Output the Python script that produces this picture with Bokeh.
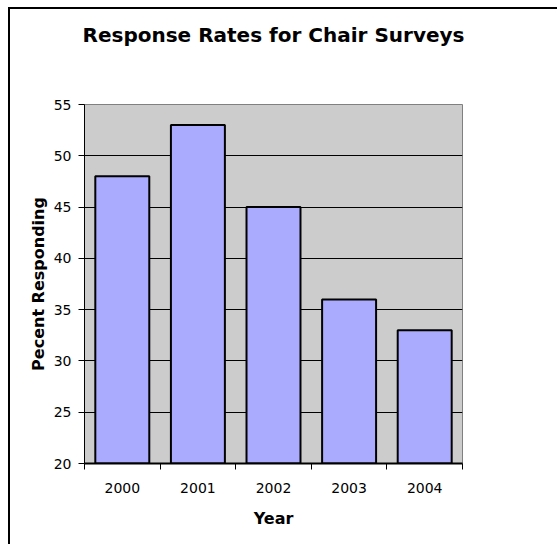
from bokeh.plotting import figure
from bokeh.models import FixedTicker, ColumnDataSource, Title, InlineStyleSheet
from bokeh.embed import file_html
from bokeh.resources import INLINE

years = ["2000", "2001", "2002", "2003", "2004"]
percent = [48, 53, 45, 36, 33]
y_ticks = [20, 25, 30, 35, 40, 45, 50, 55]
title_text = "Response Rates for Chair Surveys"

xpos = [i + 0.5 for i in range(len(years))]
src = ColumnDataSource(dict(x=xpos, top=percent, year=years))

# outer chart border: only its left and top edges fall inside the picture
border_css = InlineStyleSheet(css="""
:host { position: relative; }
:host::before { content: ''; position: absolute; left: 8px; top: 7px;
                width: 2px; height: 537px; background: black; z-index: 100; }
:host::after  { content: ''; position: absolute; left: 8px; top: 7px;
                width: 549px; height: 2px; background: black; z-index: 100; }
""")

p = figure(width=557, height=544, output_backend="svg", toolbar_location=None,
           x_range=(0, len(years)), y_range=(20, 55),
           min_border_left=84, min_border_right=95, min_border_top=104, min_border_bottom=81,
           stylesheets=[border_css])

# main title (outermost panel)
p.title.text = title_text
p.title.align = "center"
p.title.vertical_align = "bottom"
p.title.text_font = "DejaVu Sans"
p.title.text_font_size = "20px"
p.title.text_font_style = "bold"
p.title.text_color = "black"
p.title.standoff = 0
p.title.offset = 2

# blank spacer panel between the title and the plot area
p.add_layout(Title(text=" ", text_font_size="1px", standoff=55), "above")

p.background_fill_color = "#CCCCCC"
p.border_fill_color = "white"
p.outline_line_color = "#808080"
p.outline_line_width = 1

p.vbar(x="x", top="top", bottom=20, width=0.714, source=src,
       fill_color="#AAAAFF", line_color="black", line_width=2)

# Grid
p.xgrid.visible = False
p.ygrid.ticker = FixedTicker(ticks=y_ticks)
p.ygrid.grid_line_color = "black"
p.ygrid.grid_line_width = 1

# X axis
xa = p.xaxis[0]
xa.ticker = FixedTicker(ticks=xpos, minor_ticks=list(range(len(years) + 1)))
xa.major_label_overrides = {x: y for x, y in zip(xpos, years)}
xa.major_tick_out = 0
xa.major_tick_in = 0
xa.minor_tick_out = 6
xa.minor_tick_in = 0
xa.minor_tick_line_color = "black"
xa.axis_line_color = "black"
xa.axis_line_width = 2
xa.major_label_text_font = "DejaVu Sans"
xa.major_label_text_font_size = "14px"
xa.major_label_text_color = "black"
xa.major_label_standoff = 13
xa.axis_label = "Year"
xa.axis_label_text_font = "DejaVu Sans"
xa.axis_label_text_font_size = "16px"
xa.axis_label_text_font_style = "bold"
xa.axis_label_text_color = "black"
xa.axis_label_standoff = 13

# Y axis
ya = p.yaxis[0]
ya.ticker = FixedTicker(ticks=y_ticks)
ya.major_tick_out = 6
ya.major_tick_in = 0
ya.minor_tick_out = 0
ya.minor_tick_in = 0
ya.major_tick_line_color = "black"
ya.axis_line_color = "black"
ya.axis_line_width = 1
ya.major_label_text_font = "DejaVu Sans"
ya.major_label_text_font_size = "14px"
ya.major_label_text_color = "black"
ya.major_label_standoff = 7
ya.axis_label = "Pecent Responding"
ya.axis_label_text_font = "DejaVu Sans"
ya.axis_label_text_font_size = "16px"
ya.axis_label_text_font_style = "bold"
ya.axis_label_text_color = "black"
ya.axis_label_standoff = 3

open("out.html", "w").write(file_html(p, INLINE))
